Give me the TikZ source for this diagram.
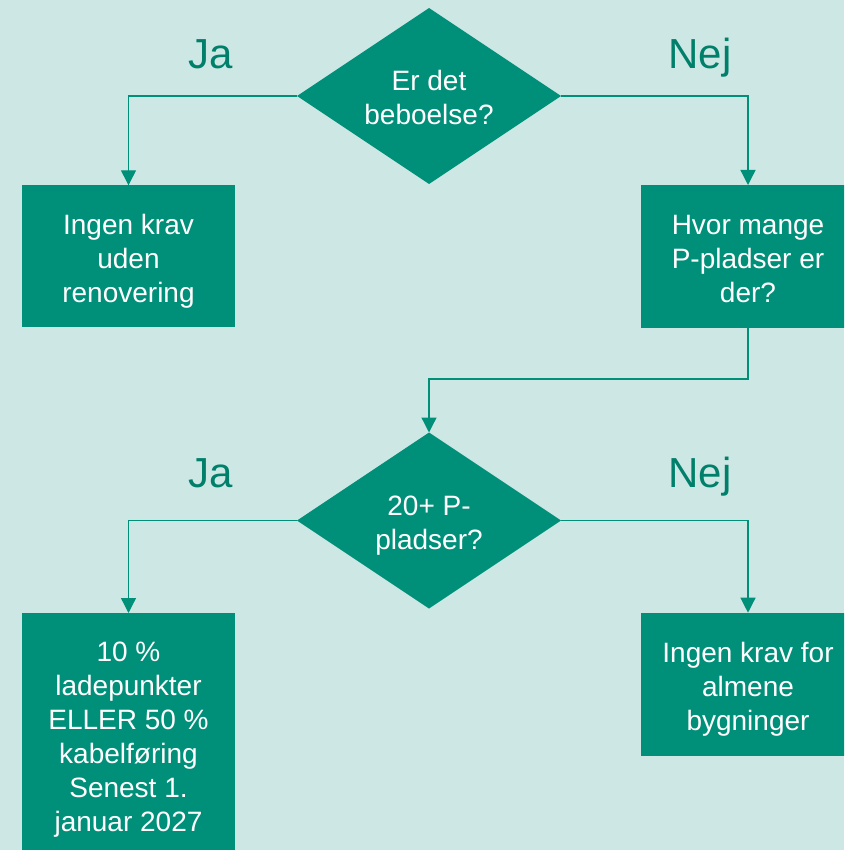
\documentclass[tikz,border=0pt]{standalone}
\usepackage{fontspec}
\setmainfont{Liberation Sans}
\usetikzlibrary{shapes.geometric,arrows.meta}
\definecolor{bg}{HTML}{CDE8E4}
\definecolor{tealfill}{HTML}{00907A}
\definecolor{labc}{HTML}{00806B}
\begin{document}
\begin{tikzpicture}[x=1pt,y=-1pt,
  lines/.style={text height={(#1-1)*34pt+30pt},text depth=6pt},
  box/.style={rectangle,fill=tealfill,text=white,inner sep=0pt,outer sep=0pt,
    minimum width=213pt,font=\fontsize{28}{34}\selectfont,align=center},
  dec/.style={diamond,fill=tealfill,text=white,inner sep=0pt,outer sep=0pt,
    minimum width=264pt,minimum height=176pt,shape aspect=1.5,
    font=\fontsize{28}{34}\selectfont,align=center},
  lab/.style={text=labc,font=\fontsize{42}{50}\selectfont,anchor=base},
  conn/.style={draw=tealfill,line width=1.3pt,-{Triangle[length=15pt,width=15pt]}}]
\useasboundingbox (0,0) rectangle (844,850);
\clip (0,0) rectangle (844,850);
\fill[bg] (0,0) rectangle (844,850);
\node[dec,lines=2] (d1) at (429,96) {Er det\\beboelse?};
\node[box,lines=3,minimum height=142pt] (b1) at (128.5,256.3) {Ingen krav\\uden\\renovering};
\node[box,lines=3,minimum width=214pt,minimum height=143pt] (b2) at (748,256.5) {Hvor mange\\P-pladser er\\der?};
\node[dec,lines=2] (d2) at (429,520.5) {20+ P-\\pladser?};
\node[box,lines=6,minimum height=242pt] (b3) at (128.5,734) {10 \%\\ladepunkter\\ELLER 50 \%\\kabelføring\\Senest 1.\\januar 2027};
\node[box,lines=3,minimum width=214pt,minimum height=143pt] (b4) at (748,684.2) {Ingen krav for\\almene\\bygninger};
\node[lab] (ja1) at (211,69) {Ja};
\node[lab] (nej1) at (700,69) {Nej};
\node[lab] (ja2) at (211,487) {Ja};
\node[lab] (nej2) at (700,487) {Nej};
\coordinate (m) at (429,379);
\draw[conn] (d1.west) -| (b1.north);
\draw[conn] (d1.east) -| (b2.north);
\draw[conn] (b2.south) |- (m) -- (d2.north);
\draw[conn] (d2.west) -| (b3.north);
\draw[conn] (d2.east) -| (b4.north);
\end{tikzpicture}
\end{document}
